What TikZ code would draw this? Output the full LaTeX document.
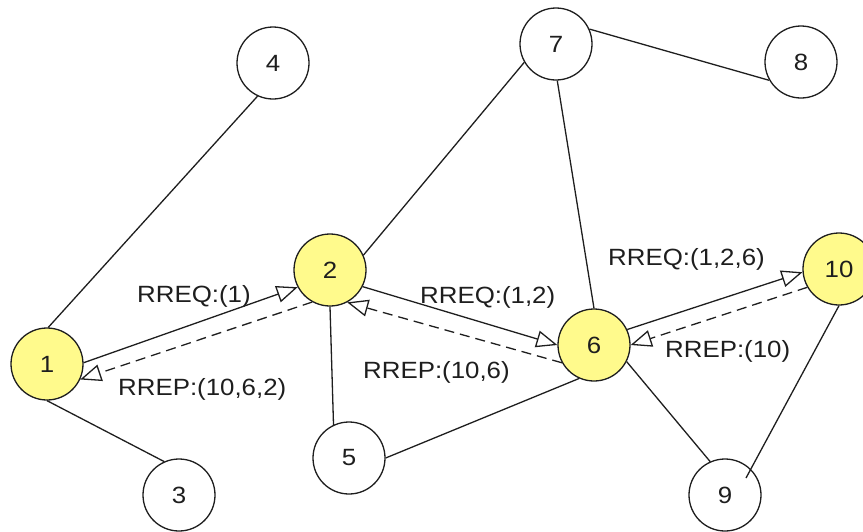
\documentclass[tikz,border=0pt]{standalone}
\usepackage{fontspec}
\setmainfont{Liberation Sans}[FakeStretch=1.1]
\usetikzlibrary{arrows.meta}
\definecolor{nodeyellow}{RGB}{255,250,140}
\definecolor{ink}{RGB}{30,30,30}
\begin{document}
\begin{tikzpicture}[x=1pt,y=-1pt,
  every node/.style={font=\fontsize{23.5}{28}\selectfont, text=ink},
  host/.style={circle, draw=ink, line width=1.3pt, minimum size=72pt, inner sep=0pt, fill=white},
  active/.style={host, fill=nodeyellow},
  link/.style={draw=ink, line width=1.3pt},
  req/.style={link, -{Triangle[open,length=21pt,width=17pt]}},
  rep/.style={req, dash pattern=on 10pt off 6pt},
  msg/.style={anchor=base west, inner sep=0pt}]
\useasboundingbox (0,0) rectangle (863,531);
\clip (0,0) rectangle (863,531);
% hosts
\node[active] (1) at (47,364) {1};
\node[active] (2) at (330,270) {2};
\node[host] (3) at (179,495) {3};
\node[host] (4) at (273,63) {4};
\node[host] (5) at (349,458) {5};
\node[active] (6) at (594,345) {6};
\node[host] (7) at (556,44) {7};
\node[host] (8) at (801,62) {8};
\node[host] (9) at (725,495) {9};
\node[active] (10) at (839,269) {10};
\coordinate (9in) at ([shift={(21,-17)}]9.center);
% links
\draw[link] (1.88) -- (4.245);
\draw[link] (1.-90) -- (3.114);
\draw[link] (2.24) -- (7.210);
\draw[link] (2.-90) -- (5.115);
\draw[link] (5.0) -- (6.246);
\draw[link] (7.-88) -- (6.90);
\draw[link] (7.24) -- (8.210);
\draw[link] (6.-27) -- (9.114);
\draw[link] (10.-90) -- (9in);
% route request / reply
\draw[req] (1.2) -- (2.208);
\draw[rep] (2.241) -- (1.-25);
\draw[req] (2.-27) -- (6.180);
\draw[rep] (6.209) -- (2.-62);
\draw[req] (6.25) -- (10.185);
\draw[rep] (10.210) -- (6.0);
% labels
\node[msg] (l1) at (137,302) {RREQ:(1)};
\node[msg] (l2) at (118,395) {RREP:(10,6,2)};
\node[msg] (l3) at (420,303) {RREQ:(1,2)};
\node[msg] (l4) at (363,378) {RREP:(10,6)};
\node[msg] (l5) at (608,265) {RREQ:(1,2,6)};
\node[msg] (l6) at (665,357) {RREP:(10)};
\end{tikzpicture}
\end{document}
